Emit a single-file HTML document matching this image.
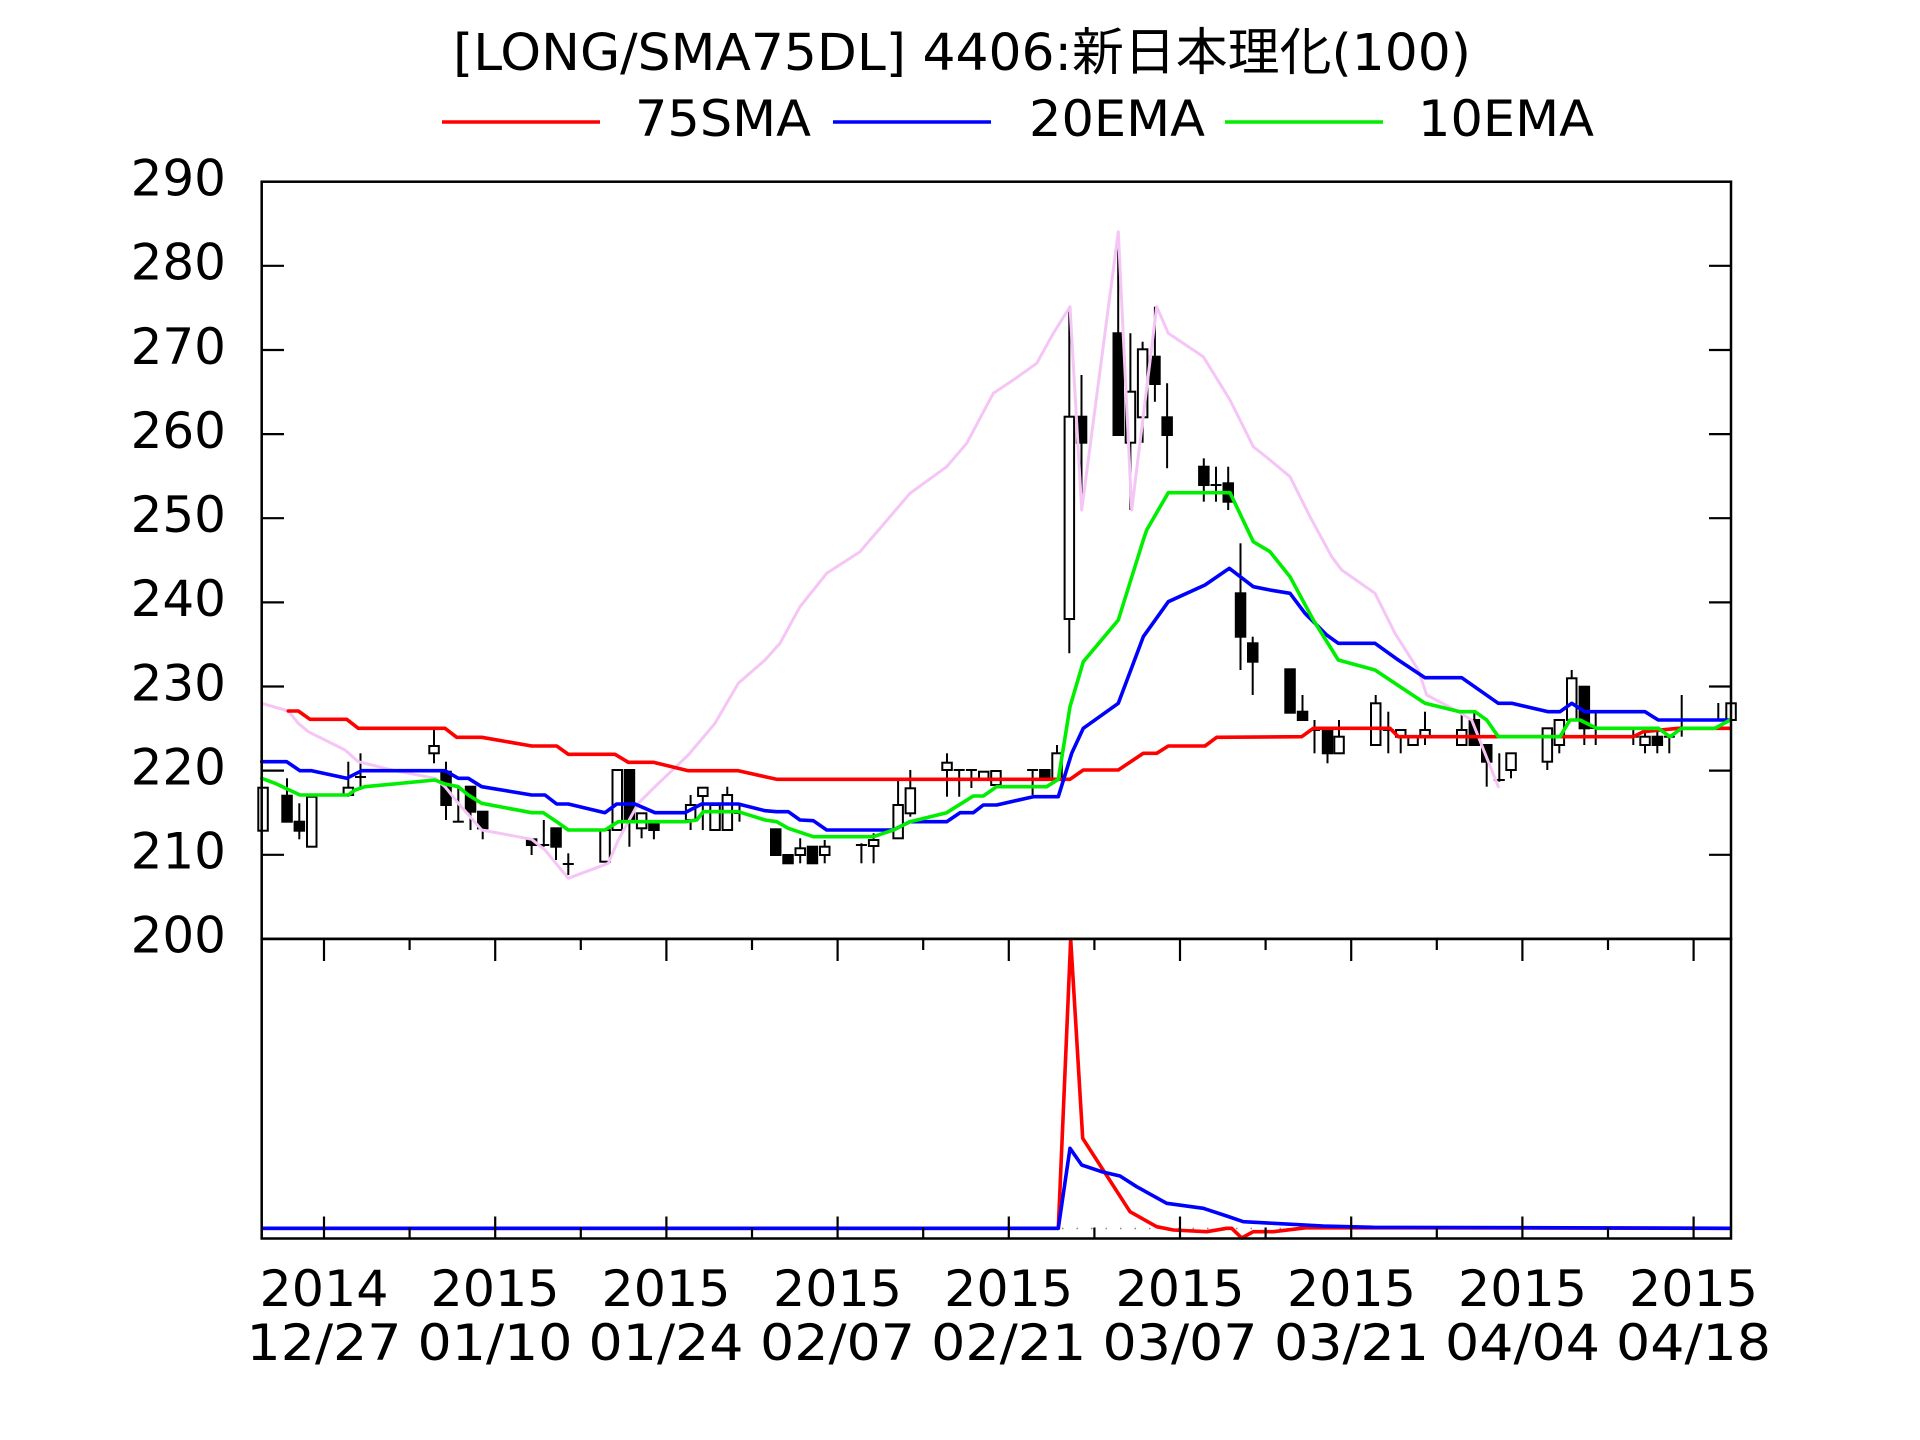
<!DOCTYPE html>
<html><head><meta charset="utf-8"><style>html,body{margin:0;padding:0;background:#fff}svg{display:block}</style></head>
<body>
<svg xmlns="http://www.w3.org/2000/svg" width="1920" height="1440" viewBox="0 0 1920 1440">
<rect width="1920" height="1440" fill="#fff"/>
<!-- Title & legend -->
<g font-family="'DejaVu Sans','Noto Sans CJK JP',sans-serif" fill="#000">
<text x="453" y="70" font-size="51" textLength="1018" lengthAdjust="spacingAndGlyphs">[LONG/SMA75DL] 4406:新日本理化(100)</text>
<text x="635" y="136" font-size="50" textLength="176" lengthAdjust="spacingAndGlyphs">75SMA</text>
<text x="1029" y="136" font-size="50" textLength="176" lengthAdjust="spacingAndGlyphs">20EMA</text>
<text x="1418" y="136" font-size="50" textLength="176" lengthAdjust="spacingAndGlyphs">10EMA</text>
</g>
<line x1="442" y1="122" x2="600" y2="122" stroke="#ff0000" stroke-width="3.5"/>
<line x1="833" y1="122" x2="991" y2="122" stroke="#0000ff" stroke-width="3.5"/>
<line x1="1225" y1="122" x2="1383" y2="122" stroke="#00ee00" stroke-width="3.5"/>

<!-- Y labels -->
<g font-family="'DejaVu Sans',sans-serif" font-size="50" text-anchor="end" fill="#000">
<text x="226" y="195.5">290</text>
<text x="226" y="279.6">280</text>
<text x="226" y="363.8">270</text>
<text x="226" y="447.9">260</text>
<text x="226" y="532">250</text>
<text x="226" y="616.2">240</text>
<text x="226" y="700.3">230</text>
<text x="226" y="784.4">220</text>
<text x="226" y="868.6">210</text>
<text x="226" y="952.7">200</text>
</g>

<!-- X labels -->
<g font-family="'DejaVu Sans',sans-serif" font-size="50" text-anchor="middle" fill="#000">
<text x="324" y="1306" textLength="129" lengthAdjust="spacingAndGlyphs">2014</text>
<text x="324" y="1360" textLength="155" lengthAdjust="spacingAndGlyphs">12/27</text>
<text x="495" y="1306" textLength="129" lengthAdjust="spacingAndGlyphs">2015</text>
<text x="495" y="1360" textLength="155" lengthAdjust="spacingAndGlyphs">01/10</text>
<text x="666" y="1306" textLength="129" lengthAdjust="spacingAndGlyphs">2015</text>
<text x="666" y="1360" textLength="155" lengthAdjust="spacingAndGlyphs">01/24</text>
<text x="837.5" y="1306" textLength="129" lengthAdjust="spacingAndGlyphs">2015</text>
<text x="837.5" y="1360" textLength="155" lengthAdjust="spacingAndGlyphs">02/07</text>
<text x="1008.7" y="1306" textLength="129" lengthAdjust="spacingAndGlyphs">2015</text>
<text x="1008.7" y="1360" textLength="155" lengthAdjust="spacingAndGlyphs">02/21</text>
<text x="1180" y="1306" textLength="129" lengthAdjust="spacingAndGlyphs">2015</text>
<text x="1180" y="1360" textLength="155" lengthAdjust="spacingAndGlyphs">03/07</text>
<text x="1351.5" y="1306" textLength="129" lengthAdjust="spacingAndGlyphs">2015</text>
<text x="1351.5" y="1360" textLength="155" lengthAdjust="spacingAndGlyphs">03/21</text>
<text x="1522.5" y="1306" textLength="129" lengthAdjust="spacingAndGlyphs">2015</text>
<text x="1522.5" y="1360" textLength="155" lengthAdjust="spacingAndGlyphs">04/04</text>
<text x="1693.5" y="1306" textLength="129" lengthAdjust="spacingAndGlyphs">2015</text>
<text x="1693.5" y="1360" textLength="155" lengthAdjust="spacingAndGlyphs">04/18</text>
</g>

<!-- Candles -->
<g stroke="#000" stroke-width="2">
<rect x="258.3" y="787.7" width="9.5" height="43" fill="#fff"/>
<line x1="287" y1="778.3" x2="287" y2="821.7"/><rect x="282.3" y="795.7" width="9.5" height="26" fill="#000"/>
<line x1="299.3" y1="803.3" x2="299.3" y2="839.3"/><rect x="294.6" y="821.7" width="9.5" height="9" fill="#000"/>
<rect x="307" y="796.7" width="9.5" height="50" fill="#fff"/>
<line x1="348.3" y1="761.7" x2="348.3" y2="796.7"/><rect x="343.6" y="787.7" width="9.5" height="7.3" fill="#fff"/>
<line x1="360.5" y1="753.3" x2="360.5" y2="786.7"/><line x1="355" y1="777" x2="366" y2="777"/>
<line x1="434" y1="728.3" x2="434" y2="763.3"/><rect x="429.3" y="746" width="9.5" height="7.3" fill="#fff"/>
<line x1="446" y1="761.7" x2="446" y2="820"/><rect x="441.3" y="771.7" width="9.5" height="33.3" fill="#000"/>
<line x1="458.3" y1="786.7" x2="458.3" y2="821.7"/><line x1="452.8" y1="821.7" x2="463.8" y2="821.7"/>
<line x1="470.5" y1="786.7" x2="470.5" y2="830"/><rect x="465.8" y="786.7" width="9.5" height="25" fill="#000"/>
<line x1="482.7" y1="811.7" x2="482.7" y2="839.3"/><rect x="478" y="811.7" width="9.5" height="16.6" fill="#000"/>
<line x1="531.6" y1="839.3" x2="531.6" y2="855"/><rect x="526.9" y="839.3" width="9.5" height="5.7" fill="#000"/>
<line x1="543.8" y1="820" x2="543.8" y2="846.7"/><line x1="538.3" y1="845" x2="549.3" y2="845"/>
<line x1="556" y1="828.3" x2="556" y2="860"/><rect x="551.3" y="828.3" width="9.5" height="18.4" fill="#000"/>
<line x1="568.3" y1="853.3" x2="568.3" y2="875"/><line x1="562.8" y1="864" x2="573.8" y2="864"/>
<rect x="600.3" y="830" width="9.5" height="31.7" fill="#fff"/>
<rect x="612.5" y="770" width="9.5" height="60" fill="#fff"/>
<line x1="629.4" y1="770" x2="629.4" y2="846.7"/><rect x="624.7" y="770" width="9.5" height="50" fill="#000"/>
<line x1="641.6" y1="813.3" x2="641.6" y2="838.3"/><rect x="636.9" y="813.3" width="9.5" height="15" fill="#fff"/>
<line x1="653.9" y1="823.3" x2="653.9" y2="839.3"/><rect x="649.2" y="823.3" width="9.5" height="6.7" fill="#000"/>
<line x1="690.6" y1="795" x2="690.6" y2="830"/><rect x="685.9" y="805" width="9.5" height="15" fill="#fff"/>
<line x1="702.8" y1="787.7" x2="702.8" y2="830"/><rect x="698.1" y="787.7" width="9.5" height="8.3" fill="#fff"/>
<rect x="710.3" y="805" width="9.5" height="25" fill="#fff"/>
<line x1="727.3" y1="786.7" x2="727.3" y2="830"/><rect x="722.6" y="795" width="9.5" height="35" fill="#fff"/>
<line x1="739.5" y1="805" x2="739.5" y2="821.7"/><line x1="734" y1="813" x2="745" y2="813"/>
<rect x="771" y="829.3" width="9.5" height="25.7" fill="#000"/>
<rect x="783.3" y="855" width="9.5" height="8.3" fill="#000"/>
<line x1="800.2" y1="838.3" x2="800.2" y2="863.3"/><rect x="795.5" y="848.3" width="9.5" height="6.7" fill="#fff"/>
<rect x="807.7" y="846.7" width="9.5" height="16.6" fill="#000"/>
<line x1="824.7" y1="840" x2="824.7" y2="863.3"/><rect x="820" y="846.7" width="9.5" height="8.3" fill="#fff"/>
<line x1="861.4" y1="843.3" x2="861.4" y2="863.3"/><line x1="855.9" y1="845" x2="866.9" y2="845"/>
<line x1="873.6" y1="833.3" x2="873.6" y2="863.3"/><rect x="868.9" y="840" width="9.5" height="6" fill="#fff"/>
<line x1="898.1" y1="780" x2="898.1" y2="838.3"/><rect x="893.4" y="805" width="9.5" height="33.3" fill="#fff"/>
<line x1="910.3" y1="770" x2="910.3" y2="816.7"/><rect x="905.6" y="788.3" width="9.5" height="25" fill="#fff"/>
<line x1="947" y1="753.3" x2="947" y2="796.7"/><rect x="942.3" y="762.7" width="9.5" height="7.3" fill="#fff"/>
<line x1="959.2" y1="770" x2="959.2" y2="796.7"/><line x1="953.7" y1="770" x2="964.7" y2="770"/>
<line x1="971.4" y1="770" x2="971.4" y2="788"/><line x1="965.9" y1="770" x2="976.9" y2="770"/>
<rect x="979" y="771.7" width="9.5" height="8.3" fill="#fff"/>
<rect x="991.2" y="771" width="9.5" height="14" fill="#fff"/>
<line x1="1032.6" y1="770" x2="1032.6" y2="795"/><line x1="1027.1" y1="770" x2="1038.1" y2="770"/>
<rect x="1040.1" y="770" width="9.5" height="8.3" fill="#000"/>
<line x1="1057" y1="745" x2="1057" y2="780"/><rect x="1052.3" y="753.3" width="9.5" height="26.7" fill="#fff"/>
<line x1="1069.3" y1="307" x2="1069.3" y2="653.3"/><rect x="1064.6" y="416.7" width="9.5" height="202.3" fill="#fff"/>
<line x1="1081.5" y1="375" x2="1081.5" y2="510"/><rect x="1076.8" y="416.7" width="9.5" height="26" fill="#000"/>
<line x1="1118.2" y1="231.7" x2="1118.2" y2="435"/><rect x="1113.5" y="333.3" width="9.5" height="101.7" fill="#000"/>
<line x1="1130.4" y1="333.3" x2="1130.4" y2="510"/><rect x="1125.7" y="391.7" width="9.5" height="51" fill="#fff"/>
<line x1="1142.6" y1="341.7" x2="1142.6" y2="442.7"/><rect x="1137.9" y="349.3" width="9.5" height="68" fill="#fff"/>
<line x1="1154.9" y1="306.7" x2="1154.9" y2="401.7"/><rect x="1150.2" y="356.7" width="9.5" height="27.3" fill="#000"/>
<line x1="1167.1" y1="383.3" x2="1167.1" y2="468.3"/><rect x="1162.4" y="417.3" width="9.5" height="17.7" fill="#000"/>
<line x1="1203.8" y1="458.3" x2="1203.8" y2="501.7"/><rect x="1199.1" y="466.7" width="9.5" height="18.3" fill="#000"/>
<line x1="1216" y1="466.7" x2="1216" y2="501.7"/><line x1="1210.5" y1="485" x2="1221.5" y2="485"/>
<line x1="1228.2" y1="466.7" x2="1228.2" y2="510"/><rect x="1223.5" y="483.3" width="9.5" height="18.4" fill="#000"/>
<line x1="1240.5" y1="543.3" x2="1240.5" y2="670"/><rect x="1235.8" y="593.3" width="9.5" height="43.4" fill="#000"/>
<line x1="1252.7" y1="636.7" x2="1252.7" y2="695"/><rect x="1248" y="643.3" width="9.5" height="18.4" fill="#000"/>
<rect x="1285.3" y="669.3" width="9.5" height="43.4" fill="#000"/>
<line x1="1302.5" y1="695" x2="1302.5" y2="720"/><rect x="1297.8" y="711.7" width="9.5" height="8.3" fill="#000"/>
<line x1="1314.5" y1="720" x2="1314.5" y2="753.3"/><line x1="1309" y1="730" x2="1320" y2="730"/>
<line x1="1327.5" y1="730" x2="1327.5" y2="763.3"/><rect x="1322.8" y="730" width="9.5" height="23.3" fill="#000"/>
<line x1="1339" y1="720" x2="1339" y2="753.3"/><rect x="1334.3" y="736.7" width="9.5" height="16.6" fill="#fff"/>
<line x1="1375.7" y1="695" x2="1375.7" y2="745"/><rect x="1371" y="703.3" width="9.5" height="41.7" fill="#fff"/>
<line x1="1388.3" y1="711.7" x2="1388.3" y2="753.3"/><line x1="1382.8" y1="730" x2="1393.8" y2="730"/>
<line x1="1400.7" y1="730" x2="1400.7" y2="753.3"/><rect x="1396" y="730" width="9.5" height="6.7" fill="#fff"/>
<rect x="1408.3" y="736.7" width="9.5" height="8.3" fill="#fff"/>
<line x1="1425" y1="711.7" x2="1425" y2="745"/><rect x="1420.3" y="730" width="9.5" height="6.7" fill="#fff"/>
<line x1="1461.7" y1="711.7" x2="1461.7" y2="745"/><rect x="1457" y="730" width="9.5" height="15" fill="#fff"/>
<line x1="1474.3" y1="711.7" x2="1474.3" y2="745"/><rect x="1469.6" y="720" width="9.5" height="25" fill="#000"/>
<line x1="1486.7" y1="745" x2="1486.7" y2="786.7"/><rect x="1482" y="745" width="9.5" height="16.7" fill="#000"/>
<line x1="1499.3" y1="753.3" x2="1499.3" y2="781.7"/><line x1="1493.8" y1="780" x2="1504.8" y2="780"/>
<line x1="1511" y1="753.3" x2="1511" y2="778.3"/><rect x="1506.3" y="753.3" width="9.5" height="16.7" fill="#fff"/>
<line x1="1547.3" y1="728.3" x2="1547.3" y2="770"/><rect x="1542.6" y="728.3" width="9.5" height="33.4" fill="#fff"/>
<line x1="1559.3" y1="720" x2="1559.3" y2="753.3"/><rect x="1554.6" y="720" width="9.5" height="25" fill="#fff"/>
<line x1="1571.7" y1="670" x2="1571.7" y2="720"/><rect x="1567" y="678.3" width="9.5" height="41.7" fill="#fff"/>
<line x1="1584.3" y1="686.7" x2="1584.3" y2="745"/><rect x="1579.6" y="686.7" width="9.5" height="41.6" fill="#000"/>
<line x1="1595.7" y1="711.7" x2="1595.7" y2="745"/><line x1="1590.2" y1="728" x2="1601.2" y2="728"/>
<line x1="1633.3" y1="728.3" x2="1633.3" y2="745"/><line x1="1627.8" y1="736.7" x2="1638.8" y2="736.7"/>
<line x1="1645" y1="728" x2="1645" y2="753.3"/><rect x="1640.3" y="736.7" width="9.5" height="8.3" fill="#fff"/>
<line x1="1657.3" y1="728.3" x2="1657.3" y2="753.3"/><rect x="1652.6" y="736.7" width="9.5" height="8.3" fill="#000"/>
<line x1="1669.3" y1="736.7" x2="1669.3" y2="753.3"/><line x1="1663.8" y1="736.7" x2="1674.8" y2="736.7"/>
<line x1="1681.7" y1="695" x2="1681.7" y2="736.7"/><line x1="1676.2" y1="728.3" x2="1687.2" y2="728.3"/>
<line x1="1718.3" y1="703" x2="1718.3" y2="720"/><line x1="1712.8" y1="720" x2="1723.8" y2="720"/>
<rect x="1726.3" y="703.3" width="9.5" height="16.7" fill="#fff"/>
</g>

<!-- Main panel lines -->
<g fill="none" stroke-linejoin="round" stroke-linecap="round">
<polyline stroke="#f5c6f5" stroke-width="3" points="261.7,703.3 288.3,711 298.3,723.3 308.3,731.7 345,750 358.3,761.7 395,770.7 435,778.3 445,786.7 458.3,803.3 481.7,830 531.7,839.3 545,850 568.3,878.3 608.3,863.3 618.3,840 638.3,803.3 655,786.7 688.3,755 715,723.3 738.3,683.3 765,660 780,643.3 800,606.7 826.7,573.3 860,551.7 870,540 910,493.3 946.7,466.7 966.7,443.3 993.3,393.3 1013.3,380 1036.7,363.3 1053.3,333.3 1070,306.7 1081.7,510 1118.3,231.7 1131.7,510 1156.7,306.7 1168.3,333.3 1203.3,356.7 1230,400 1253.3,446.7 1270,460 1290,476.7 1310,516.7 1331.7,556.7 1341.7,570 1375,593.3 1395,633.3 1418.3,670 1426.7,695 1458.3,711.7 1471.7,720 1498.3,786.7"/>
<polyline stroke="#ff0000" stroke-width="3.6" points="288.3,711 298.3,711 310,719.3 346.7,719.3 358.3,728.3 445,728.3 456.7,737.3 481.7,737.3 531.7,746 556.7,746 568.3,754.3 615,754.3 628.3,762.3 653.3,762.3 688.3,770.7 738.3,770.7 765,776.7 776.7,779.3 1070,779.3 1083.3,770 1118.3,770 1143.3,753.3 1156.7,753.3 1168.3,746 1205,746 1216.7,737.3 1301.7,736.7 1313.3,728.3 1390,728.3 1398.3,736.7 1633.3,736.7 1643.3,731.7 1678.3,728.3 1730,728.3"/>
<polyline stroke="#0000ff" stroke-width="3.6" points="261.7,761.7 286.7,761.7 300,770.7 311.7,770.7 346.7,778.3 361.7,770.7 445,770.7 458.3,778.3 468.3,778.3 481.7,786.7 531.7,795 545,795 556.7,804 568.3,804 605,812.7 616.7,804 635,804 655,812.7 685,812.7 701.7,804 738.3,804 765,810.7 776.7,811.7 788.3,811.7 800,820 813.3,820.7 826.7,830 893.3,830 910,821.7 946.7,821.7 960,812.7 973.3,812.7 983.3,805 996.7,805 1033.3,796.7 1058.3,796.7 1071.7,753.3 1083.3,728.3 1118.3,703.3 1143.3,636.7 1168.3,601.7 1205,585 1229.3,568.3 1253.3,586.7 1270,590 1290,593.3 1305,613.3 1326.7,635 1338.3,643.3 1375,643.3 1398.3,660 1425,677.7 1461.7,677.7 1498.3,703.3 1511.7,703.3 1548.3,711.7 1560,711.7 1571.7,703.3 1585,711.7 1645,711.7 1658.3,720 1730,720"/>
<polyline stroke="#00ee00" stroke-width="3.6" points="261.7,778.3 275,783.3 300,795 348.3,795 355,790 365,786.7 435,780 445,784 458.3,786.7 468.3,795 481.7,803.3 531.7,812.7 543.3,812.7 556.7,821.7 568.3,830 605,830 618.3,821.7 635,821.7 685,821.7 696.7,820 703.3,811.7 738.3,811.7 765,820 776.7,821.7 788.3,828.3 813.3,836.7 873.3,836.7 893.3,830 910,821.7 946.7,812.7 973.3,796 983.3,796 996.7,786.7 1046.7,786.7 1058.3,779.3 1070,706.7 1083.3,661.7 1118.3,620 1143.3,540 1146.7,530 1168.3,492.7 1230,492.7 1253.3,541.7 1270,551.7 1290,576.7 1313.3,620 1338.3,660 1375,670 1425,703.3 1460,711.7 1475,711.7 1486.7,720 1498.3,736.7 1560,736.7 1570,720 1580,720 1596.7,728.3 1658.3,728.3 1670,736.7 1681.7,728.3 1715,728.3 1730,720"/>
</g>

<!-- Lower panel lines -->
<line x1="1062" y1="1228.5" x2="1300" y2="1228.5" stroke="#888" stroke-width="1.5" stroke-dasharray="1.5 13"/>
<g fill="none" stroke-linejoin="round">
<polyline stroke="#ff0000" stroke-width="3.6" points="262,1228.3 1058.3,1228.3 1070.7,939.3 1082.7,1138.3 1130,1211.7 1156.7,1226.7 1173.3,1230 1206.7,1231.7 1226.7,1228.3 1231.7,1228.3 1241.7,1238 1253.3,1231.7 1273.3,1231.7 1306.7,1227.7 1730,1228.3"/>
<polyline stroke="#0000ff" stroke-width="3.6" points="262,1228.3 1058.3,1228.3 1070,1148.3 1081.7,1165 1101.7,1171.7 1120,1176 1136.7,1186.7 1166.7,1203.3 1203.3,1208.3 1226.7,1216 1243.3,1221.7 1273.3,1223.3 1323.3,1226 1373.3,1227.3 1730,1228.3"/>
</g>

<!-- Frames -->
<g stroke="#000" stroke-width="2.5" fill="none">
<rect x="261.7" y="181.7" width="1469.3" height="757.2"/>
<rect x="261.7" y="938.9" width="1469.3" height="299.6"/>
</g>
<!-- Y ticks -->
<g stroke="#000" stroke-width="2.2">
<line x1="262" y1="265.8" x2="284" y2="265.8"/><line x1="1709" y1="265.8" x2="1731" y2="265.8"/>
<line x1="262" y1="350" x2="284" y2="350"/><line x1="1709" y1="350" x2="1731" y2="350"/>
<line x1="262" y1="434.1" x2="284" y2="434.1"/><line x1="1709" y1="434.1" x2="1731" y2="434.1"/>
<line x1="262" y1="518.2" x2="284" y2="518.2"/><line x1="1709" y1="518.2" x2="1731" y2="518.2"/>
<line x1="262" y1="602.4" x2="284" y2="602.4"/><line x1="1709" y1="602.4" x2="1731" y2="602.4"/>
<line x1="262" y1="686.5" x2="284" y2="686.5"/><line x1="1709" y1="686.5" x2="1731" y2="686.5"/>
<line x1="262" y1="770.6" x2="284" y2="770.6"/><line x1="1709" y1="770.6" x2="1731" y2="770.6"/>
<line x1="262" y1="854.8" x2="284" y2="854.8"/><line x1="1709" y1="854.8" x2="1731" y2="854.8"/>
</g>
<!-- X ticks (lower panel) -->
<g stroke="#000" stroke-width="2.2">
<line x1="324" y1="939" x2="324" y2="961"/><line x1="324" y1="1238.5" x2="324" y2="1216.5"/>
<line x1="409.6" y1="939" x2="409.6" y2="950"/><line x1="409.6" y1="1238.5" x2="409.6" y2="1227.5"/>
<line x1="495.2" y1="939" x2="495.2" y2="961"/><line x1="495.2" y1="1238.5" x2="495.2" y2="1216.5"/>
<line x1="580.8" y1="939" x2="580.8" y2="950"/><line x1="580.8" y1="1238.5" x2="580.8" y2="1227.5"/>
<line x1="666.4" y1="939" x2="666.4" y2="961"/><line x1="666.4" y1="1238.5" x2="666.4" y2="1216.5"/>
<line x1="752" y1="939" x2="752" y2="950"/><line x1="752" y1="1238.5" x2="752" y2="1227.5"/>
<line x1="837.6" y1="939" x2="837.6" y2="961"/><line x1="837.6" y1="1238.5" x2="837.6" y2="1216.5"/>
<line x1="923.2" y1="939" x2="923.2" y2="950"/><line x1="923.2" y1="1238.5" x2="923.2" y2="1227.5"/>
<line x1="1008.8" y1="939" x2="1008.8" y2="961"/><line x1="1008.8" y1="1238.5" x2="1008.8" y2="1216.5"/>
<line x1="1094.4" y1="939" x2="1094.4" y2="950"/><line x1="1094.4" y1="1238.5" x2="1094.4" y2="1227.5"/>
<line x1="1180" y1="939" x2="1180" y2="961"/><line x1="1180" y1="1238.5" x2="1180" y2="1216.5"/>
<line x1="1265.6" y1="939" x2="1265.6" y2="950"/><line x1="1265.6" y1="1238.5" x2="1265.6" y2="1227.5"/>
<line x1="1351.2" y1="939" x2="1351.2" y2="961"/><line x1="1351.2" y1="1238.5" x2="1351.2" y2="1216.5"/>
<line x1="1436.8" y1="939" x2="1436.8" y2="950"/><line x1="1436.8" y1="1238.5" x2="1436.8" y2="1227.5"/>
<line x1="1522.4" y1="939" x2="1522.4" y2="961"/><line x1="1522.4" y1="1238.5" x2="1522.4" y2="1216.5"/>
<line x1="1608" y1="939" x2="1608" y2="950"/><line x1="1608" y1="1238.5" x2="1608" y2="1227.5"/>
<line x1="1693.6" y1="939" x2="1693.6" y2="961"/><line x1="1693.6" y1="1238.5" x2="1693.6" y2="1216.5"/>
</g>
</svg>
</body></html>
